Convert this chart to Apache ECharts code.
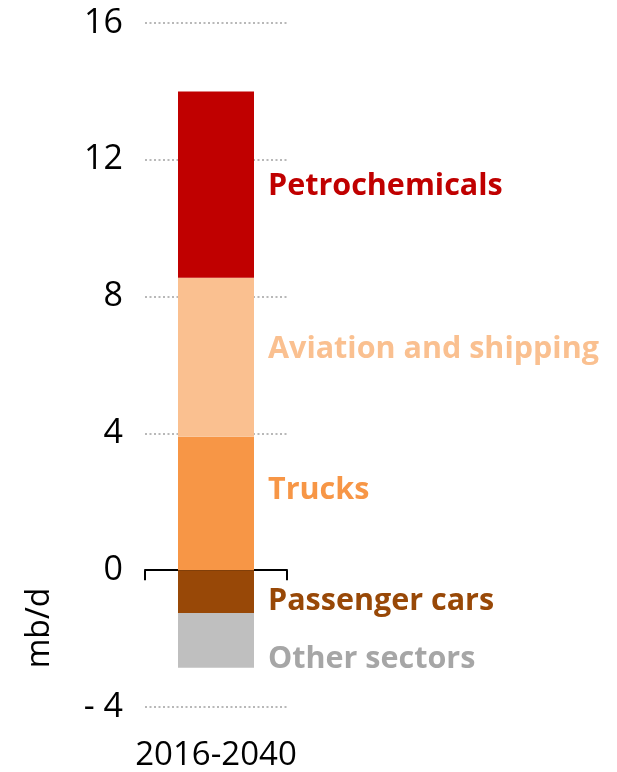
<!DOCTYPE html>
<html>
<head>
<meta charset="utf-8">
<script src="https://cdn.jsdelivr.net/npm/echarts@6/dist/echarts.min.js"></script>
<style>
  html, body { margin: 0; padding: 0; background: #fff; }
  #chart { width: 617px; height: 772px; }
</style>
</head>
<body>
<div id="chart"></div>
<script>
const categories = ["2016-2040"];
const trucks = [3.9];
const aviation = [4.65];
const petrochemicals = [5.45];
const passengerCars = [-1.25];
const otherSectors = [-1.6];
const yTicks = { min: -4, max: 16, interval: 4 };

function seriesItem(name, data, color, textColor, dy) {
  return {
    name: name,
    type: "bar",
    stack: "total",
    data: data,
    barWidth: 76,
    itemStyle: { color: color },
    label: {
      show: true,
      position: "right",
      distance: 14,
      offset: [0, dy],
      formatter: name,
      color: textColor,
      fontFamily: "Open Sans",
      fontWeight: "bold",
      fontSize: 30.5,
    },
  };
}

const chart = echarts.init(document.getElementById("chart"));
chart.setOption({
  animation: false,
  grid: { left: 145, right: 330, top: 23, bottom: 64 },
  xAxis: [
    {
      type: "category",
      data: categories,
      axisLine: { onZero: true, lineStyle: { color: "#000", width: 2 } },
      axisTick: { show: true, length: 10, lineStyle: { color: "#000", width: 2 } },
      axisLabel: { show: false },
    },
    {
      type: "category",
      data: categories,
      position: "bottom",
      axisLine: { show: false },
      axisTick: { show: false },
      axisLabel: {
        margin: 32,
        color: "#000",
        fontFamily: "Open Sans",
        fontSize: 33,
      },
    },
  ],
  yAxis: {
    type: "value",
    min: yTicks.min,
    max: yTicks.max,
    interval: yTicks.interval,
    axisLine: { show: false },
    axisTick: { show: false },
    axisLabel: {
      margin: 22,
      color: "#000",
      fontFamily: "Open Sans",
      fontSize: 34,
      formatter: function (v) {
        return v < 0 ? "- " + Math.abs(v) : String(v);
      },
    },
    splitLine: {
      lineStyle: { color: "#b8b8b8", type: [2, 2.5], width: 2 },
    },
  },
  graphic: [
    {
      type: "text",
      x: 40,
      y: 628,
      rotation: Math.PI / 2,
      style: {
        text: "mb/d",
        fill: "#000",
        font: "32px 'Open Sans'",
        align: "center",
        verticalAlign: "middle",
      },
    },
  ],
  series: [
    seriesItem("Trucks", trucks, "#f79646", "#f79646", -13),
    seriesItem("Aviation and shipping", aviation, "#fac090", "#fac090", -8),
    seriesItem("Petrochemicals", petrochemicals, "#c00000", "#c00000", 2),
    seriesItem("Passenger cars", passengerCars, "#984807", "#984807", 10),
    seriesItem("Other sectors", otherSectors, "#bfbfbf", "#a6a6a6", 19),
  ],
});
</script>
</body>
</html>
